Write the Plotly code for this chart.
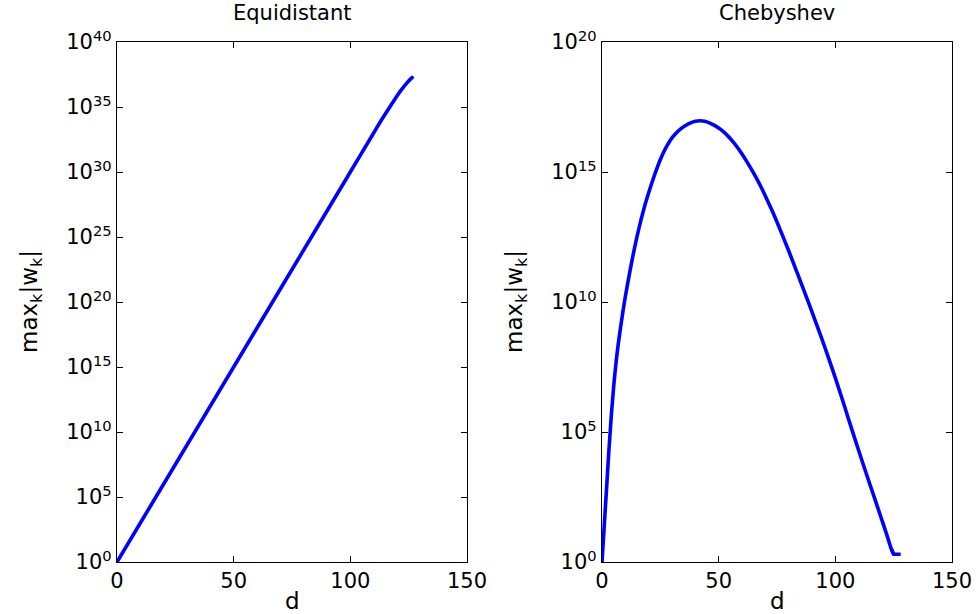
import plotly.graph_objects as go

# ---- data (exponents are log10 of max_k |w_k|) ----
equi_d = [0, 10, 20, 30, 40, 50, 60, 70, 80, 90, 100, 110, 113, 116, 118, 120, 122, 124,
          125, 126, 127]
equi_exp = [0.0, 3.0, 6.0, 9.0, 12.0, 15.0, 18.0, 21.0, 24.0, 27.0, 30.0, 33.0, 33.9,
            34.75, 35.3, 35.85, 36.35, 36.8, 37.0, 37.18, 37.35]

cheb_d = [0, 1, 2, 3, 4, 5, 6, 7, 8, 9, 10, 12, 14, 16, 18, 20, 22, 24, 26, 28, 30, 32,
          34, 36, 38, 40, 42, 44, 46, 48, 50, 52, 54, 56, 58, 60, 62, 64, 66, 68, 70, 72,
          74, 76, 78, 80, 82, 84, 86, 88, 90, 92, 94, 96, 98, 100, 102, 104, 106, 108,
          110, 112, 114, 116, 118, 120, 122, 124, 125, 128]
cheb_exp = [0.0, 1.45, 2.9, 4.35, 5.65, 6.75, 7.65, 8.4, 9.05, 9.65, 10.2, 11.2, 12.1, 12.9,
            13.6, 14.2, 14.75, 15.25, 15.68, 16.03, 16.31, 16.52, 16.68, 16.8, 16.89,
            16.95, 16.97, 16.95, 16.89, 16.8, 16.69, 16.55, 16.38, 16.18, 15.95, 15.69,
            15.41, 15.11, 14.79, 14.45, 14.08, 13.69, 13.29, 12.86, 12.42, 11.97, 11.51,
            11.04, 10.57, 10.1, 9.62, 9.13, 8.64, 8.13, 7.61, 7.08, 6.53, 5.97, 5.4, 4.84,
            4.29, 3.74, 3.2, 2.67, 2.14, 1.6, 1.06, 0.5, 0.3, 0.3]

x_ticks = [0, 50, 100, 150]
equi_ytick_exp = [0, 5, 10, 15, 20, 25, 30, 35, 40]
cheb_ytick_exp = [0, 5, 10, 15, 20]

titles = ["Equidistant", "Chebyshev"]
x_title = "d"
y_title = "max<sub>k</sub>|w<sub>k</sub>|"

# ---- figure ----
W, H = 979, 614
FONT = "DejaVu Sans"
BLUE = "#0000FF"

fig = go.Figure()
fig.add_trace(go.Scatter(x=equi_d, y=[10.0 ** e for e in equi_exp], mode="lines",
                         line=dict(color=BLUE, width=3.6, shape="spline", smoothing=0.8),
                         xaxis="x", yaxis="y", showlegend=False))
fig.add_trace(go.Scatter(x=cheb_d[:-1], y=[10.0 ** e for e in cheb_exp[:-1]], mode="lines",
                         line=dict(color=BLUE, width=3.6, shape="spline", smoothing=1.0),
                         xaxis="x2", yaxis="y2", showlegend=False))
# flat tail at the end of the Chebyshev curve (sharp corner, no smoothing)
fig.add_trace(go.Scatter(x=cheb_d[-3:], y=[10.0 ** e for e in cheb_exp[-3:]], mode="lines",
                         line=dict(color=BLUE, width=3.6),
                         xaxis="x2", yaxis="y2", showlegend=False))

left_dom = [117 / W, 467 / W]
right_dom = [602 / W, 952 / W]
y_dom = [(H - 562) / H, (H - 42) / H]

common_x = dict(range=[0, 150], tickvals=x_ticks, ticktext=[str(v) for v in x_ticks],
                showline=True, linecolor="black", linewidth=1.2, mirror="ticks",
                ticks="inside", ticklen=6, tickcolor="black", showgrid=False,
                zeroline=False, automargin=False,
                tickfont=dict(family=FONT, size=21, color="black"))
common_y = dict(type="log", showline=True, linecolor="black", linewidth=1.2,
                mirror="ticks", ticks="inside", ticklen=6, tickcolor="black",
                showgrid=False, zeroline=False, automargin=False,
                tickfont=dict(family=FONT, size=21, color="black"))

fig.update_layout(
    width=W, height=H,
    margin=dict(l=0, r=0, t=0, b=0, pad=0, autoexpand=False),
    paper_bgcolor="white", plot_bgcolor="white",
    xaxis=dict(domain=left_dom, anchor="y", **common_x),
    xaxis2=dict(domain=right_dom, anchor="y2", **common_x),
    yaxis=dict(domain=y_dom, anchor="x", range=[0, 40],
               tickvals=[10.0 ** e for e in equi_ytick_exp],
               ticktext=[f"10<sup>{e}</sup>" for e in equi_ytick_exp], **common_y),
    yaxis2=dict(domain=y_dom, anchor="x2", range=[0, 20],
                tickvals=[10.0 ** e for e in cheb_ytick_exp],
                ticktext=[f"10<sup>{e}</sup>" for e in cheb_ytick_exp], **common_y),
)

centers = [(left_dom[0] + left_dom[1]) / 2, (right_dom[0] + right_dom[1]) / 2]
ytitle_x = [31 / W, 516 / W]
for i in range(2):
    fig.add_annotation(text=titles[i], x=centers[i], y=(H - 13) / H, xref="paper",
                       yref="paper", showarrow=False, xanchor="center", yanchor="middle",
                       font=dict(family=FONT, size=21, color="black"))
    fig.add_annotation(text=x_title, x=centers[i], y=(H - 601) / H, xref="paper",
                       yref="paper", showarrow=False, xanchor="center", yanchor="middle",
                       font=dict(family=FONT, size=23, color="black"))
    fig.add_annotation(text=y_title, x=ytitle_x[i], y=(H - 302) / H, xref="paper",
                       yref="paper", showarrow=False, xanchor="center", yanchor="middle",
                       textangle=-90, font=dict(family=FONT, size=23, color="black"))

fig.write_html("out.html")
